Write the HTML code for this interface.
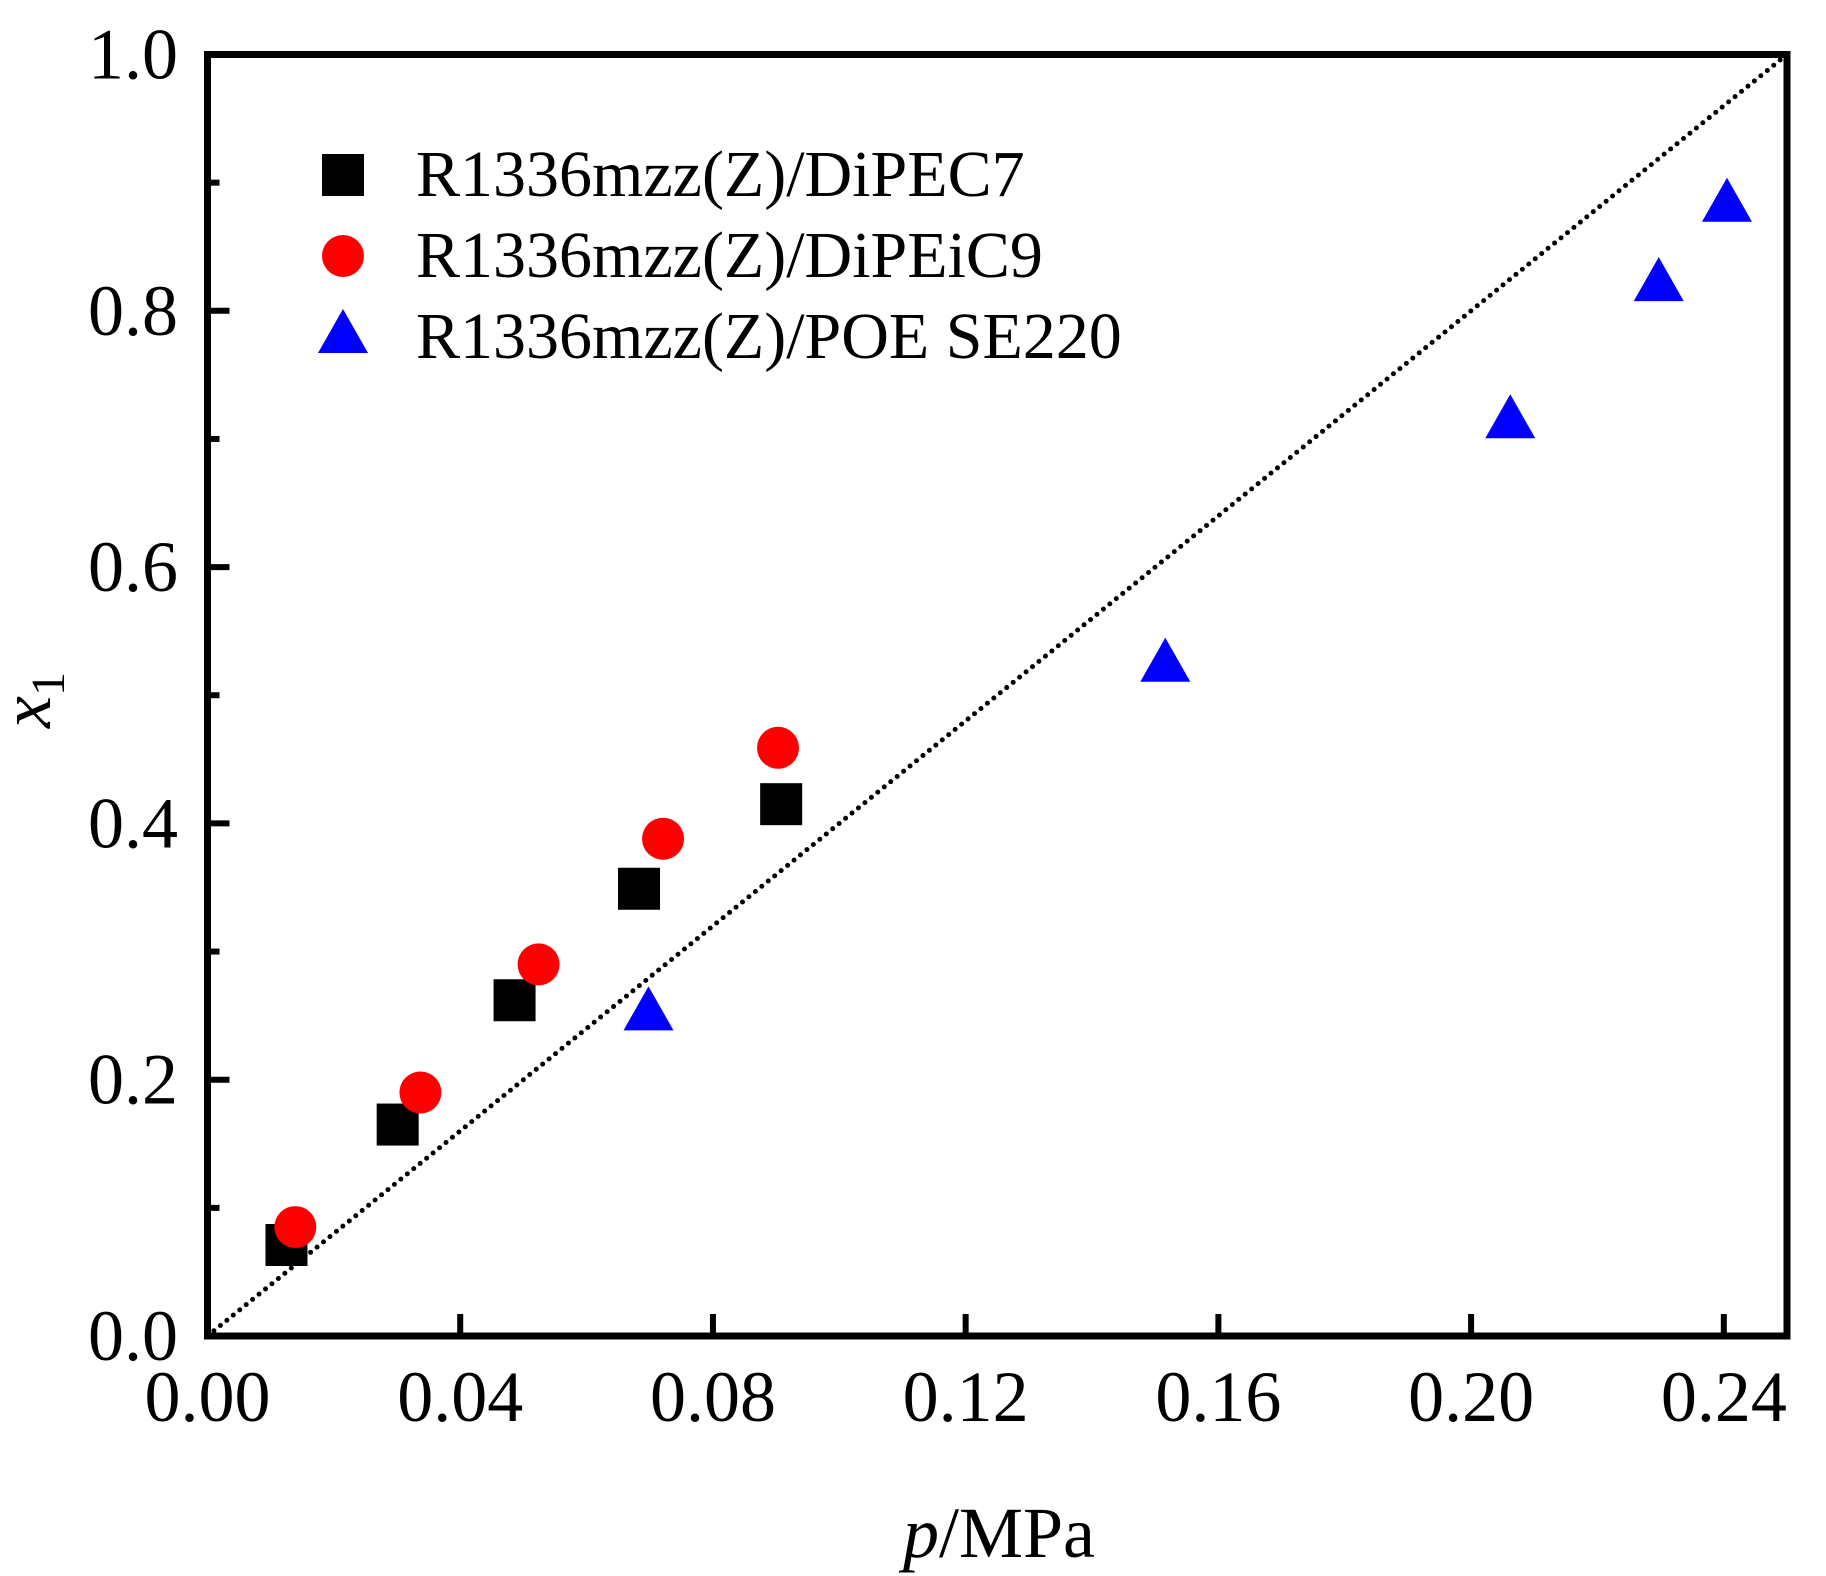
<!DOCTYPE html>
<html><head><meta charset="utf-8"><style>
html,body{margin:0;padding:0;background:#fff}
svg{display:block}
text{font-family:"Liberation Serif",serif;fill:#000}
</style></head><body>
<svg id="chart" width="1826" height="1576" viewBox="0 0 1826 1576" xmlns="http://www.w3.org/2000/svg">
<g id="axes"></g>
<g id="marks"></g>
<g id="legend"></g>
<text x="999" y="1557" font-size="72" text-anchor="middle"><tspan font-style="italic">p</tspan>/MPa</text>
<text transform="translate(50,700) rotate(-90)" font-size="72" text-anchor="middle"><tspan font-style="italic">x</tspan><tspan font-size="48" dy="14">1</tspan></text>
</svg>
<script>
const xTicks=[0,0.04,0.08,0.12,0.16,0.20,0.24];
const xTickLabels=["0.00","0.04","0.08","0.12","0.16","0.20","0.24"];
const yTicks=[0,0.2,0.4,0.6,0.8,1.0];
const yTickLabels=["0.0","0.2","0.4","0.6","0.8","1.0"];
const yMinor=[0.1,0.3,0.5,0.7,0.9];
const seriesNames=["R1336mzz(Z)/DiPEC7","R1336mzz(Z)/DiPEiC9","R1336mzz(Z)/POE SE220"];
const pDiPEC7=[0.0125,0.0301,0.0486,0.0683,0.0908];
const xDiPEC7=[0.071,0.165,0.262,0.349,0.415];
const pDiPEiC9=[0.0139,0.0337,0.0524,0.0721,0.0903];
const xDiPEiC9=[0.085,0.190,0.290,0.388,0.459];
const pSE220=[0.0698,0.1516,0.2062,0.2297,0.2405];
const xSE220=[0.251,0.523,0.713,0.820,0.882];
const refLine=[[0,0],[0.25,1.0]];

const X0=207.5,X1=1787,Y0=1336,Y1=54.5;
const sx=v=>X0+(v/0.25)*(X1-X0);
const sy=v=>Y0-(v/1.0)*(Y0-Y1);
const NS="http://www.w3.org/2000/svg";
function mk(tag,attrs,parent){const e=document.createElementNS(NS,tag);for(const k in attrs)e.setAttribute(k,attrs[k]);parent.appendChild(e);return e;}
const axes=document.getElementById('axes'),marks=document.getElementById('marks'),legend=document.getElementById('legend');

let rl=mk('line',{x1:sx(refLine[0][0]),y1:sy(refLine[0][1]),x2:sx(refLine[1][0]),y2:sy(refLine[1][1]),stroke:'#000','stroke-width':5,'stroke-linecap':'round','stroke-dasharray':'0 8.3'},marks);



xTicks.forEach((t,i)=>{
  let l=mk('line',{x1:sx(t),x2:sx(t),y1:Y0,y2:Y0-22,stroke:'#000','stroke-width':6},axes);
  
  
  let tx=mk('text',{x:sx(t),y:1421,'font-size':72,'text-anchor':'middle'},axes);
  tx.textContent=xTickLabels[i];
  
  
});
yTicks.forEach((t,i)=>{
  let l=mk('line',{x1:X0,x2:X0+22,y1:sy(t),y2:sy(t),stroke:'#000','stroke-width':6},axes);
  
  
  let tx=mk('text',{x:178,y:sy(t)+24,'font-size':72,'text-anchor':'end'},axes);
  tx.textContent=yTickLabels[i];
  
  
});
yMinor.forEach(t=>{
  let l=mk('line',{x1:X0,x2:X0+12,y1:sy(t),y2:sy(t),stroke:'#000','stroke-width':6},axes);
  
  
});
let fr=mk('rect',{x:X0,y:Y1,width:X1-X0,height:Y0-Y1,fill:'none',stroke:'#000','stroke-width':7},axes);



function square(cx,cy,p){return mk('rect',{x:cx-21,y:cy-21,width:42,height:42,fill:'#000'},p);}
function circle(cx,cy,p){return mk('circle',{cx:cx,cy:cy,r:21,fill:'#ff0000'},p);}
function tri(cx,cy,p){return mk('polygon',{points:`${cx},${cy-28} ${cx-25},${cy+16} ${cx+25},${cy+16}`,fill:'#0000ff'},p);}

pDiPEC7.forEach((p,i)=>{let e=square(sx(p),sy(xDiPEC7[i]),marks);
  
  });
pDiPEiC9.forEach((p,i)=>{let e=circle(sx(p),sy(xDiPEiC9[i]),marks);
  
  });
pSE220.forEach((p,i)=>{let e=tri(sx(p),sy(xSE220[i]),marks);
  
  });

const makers=[square,circle,tri];
seriesNames.forEach((n,i)=>{
  const cy=175+i*81;
  let m=makers[i](343,cy,legend);
  
  
  let t=mk('text',{x:416,y:cy+21,'font-size':66},legend);
  t.textContent=n;
  
  
});
</script>
</body></html>
